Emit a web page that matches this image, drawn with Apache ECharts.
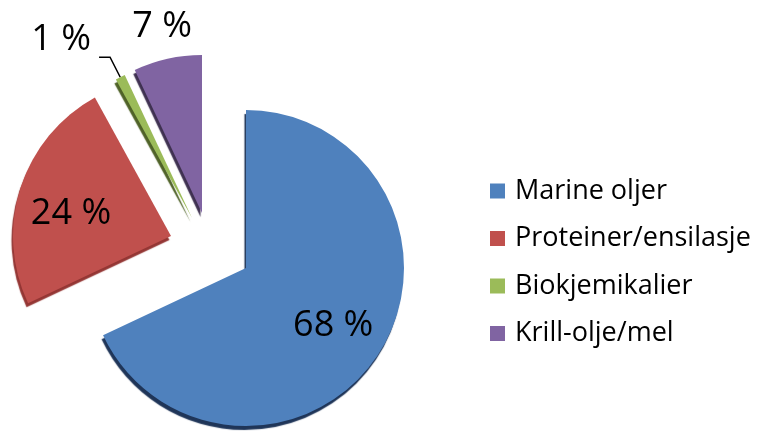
<!DOCTYPE html>
<html><head><meta charset="utf-8">
<script src="https://cdn.jsdelivr.net/npm/echarts@6/dist/echarts.min.js"></script>
<style>html,body{margin:0;padding:0;background:#fff}#c{width:763px;height:437px}</style>
</head><body><div id="c"></div>
<script>
const categories = ['Marine oljer', 'Proteiner/ensilasje', 'Biokjemikalier', 'Krill-olje/mel'];
const values = [68, 24, 1, 7];
const colors = ['#4F81BD', '#C0504D', '#9BBB59', '#8064A2'];
const edgeColors = ['#1F3558', '#943634', '#4F6228', '#3F3151'];

const FONT = 'Open Sans';
const centers = [[246, 268], [171, 236], [192, 218], [202, 213]];
const radius = 158;
const labelCfg = [
  {position: 'inside', dx: 18, dy: 14},
  {position: 'inside', dx: -22, dy: 3},
  {position: 'outside', line: true, rich: true},
  {position: 'inside', dx: -22, dy: -106}
];

const series = categories.map((cat, k) => {
  const rich = !!labelCfg[k].rich;
  const s = {
    type: 'pie',
    center: centers[k],
    radius: radius,
    startAngle: 90,
    clockwise: true,
    avoidLabelOverlap: false,
    silent: true,
    animation: false,
    label: {
      show: true,
      position: labelCfg[k].position,
      formatter: rich ? (p => '{t|' + p.value + ' %}\n{s|}') : (p => p.value + ' %'),
      fontFamily: FONT, fontSize: 36, color: '#000',
      padding: rich ? [0, 3, 0, 0] : 0,
      rich: {
        t: {fontFamily: FONT, fontSize: 36, color: '#000', lineHeight: 36},
        s: {fontSize: 10, height: 34, lineHeight: 34}
      }
    },
    labelLine: {
      show: !!labelCfg[k].line,
      length: 22.5, length2: 11,
      lineStyle: {color: '#000', width: 1.5}
    },
    data: categories.map((c, i) => ({
      name: c,
      value: values[i],
      itemStyle: i === k ? {
        color: colors[i],
        shadowColor: edgeColors[i],
        shadowBlur: 1,
        shadowOffsetX: -1.5,
        shadowOffsetY: 4
      } : {color: 'rgba(0,0,0,0)'},
      label: {show: i === k},
      labelLine: {show: i === k && !!labelCfg[k].line}
    }))
  };
  if (labelCfg[k].dx !== undefined) s.labelLayout = {dx: labelCfg[k].dx, dy: labelCfg[k].dy};
  return s;
});

const chart = echarts.init(document.getElementById('c'), null, {renderer: 'canvas'});
chart.setOption({
  backgroundColor: '#fff',
  animation: false,
  legend: {
    orient: 'vertical',
    left: 485, top: 171,
    itemWidth: 15, itemHeight: 15,
    itemGap: 17.5,
    icon: 'rect',
    data: categories.map((c, i) => ({name: c, itemStyle: {color: colors[i], shadowBlur: 0, shadowOffsetX: 0, shadowOffsetY: 0, shadowColor: 'transparent'}})),
    textStyle: {fontFamily: FONT, fontSize: 27, color: '#000', lineHeight: 30, padding: [0, 0, 0, 5]}
  },
  series: series
});
</script></body></html>
